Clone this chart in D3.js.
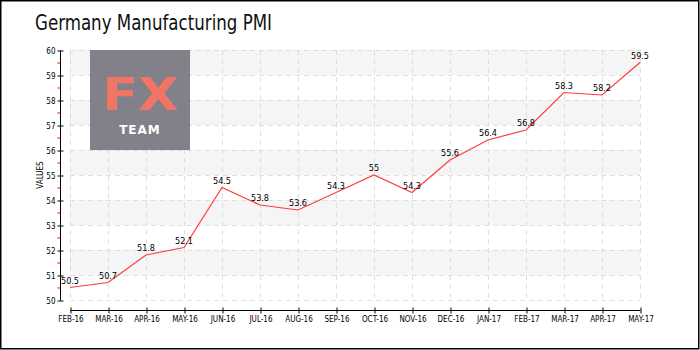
<!DOCTYPE html>
<html><head><meta charset="utf-8">
<script src="https://cdn.jsdelivr.net/npm/d3@7"></script>
<style>body{margin:0;background:#fff}svg{display:block}</style>
</head><body>
<svg id="c" width="700" height="350"></svg>
<script>
const months = ["FEB-16","MAR-16","APR-16","MAY-16","JUN-16","JUL-16","AUG-16","SEP-16","OCT-16","NOV-16","DEC-16","JAN-17","FEB-17","MAR-17","APR-17","MAY-17"];
const values = [50.5,50.7,51.8,52.1,54.5,53.8,53.6,54.3,55,54.3,55.6,56.4,56.8,58.3,58.2,59.5];
const labels = ["50.5","50.7","51.8","52.1","54.5","53.8","53.6","54.3","55","54.3","55.6","56.4","56.8","58.3","58.2","59.5"];
const yTicks = [50,51,52,53,54,55,56,57,58,59,60];
const minorTicks = [50.5,51.5,52.5,53.5,54.5,55.5,56.5,57.5,58.5,59.5];
const stripeStarts = [51,53,55,57,59];
const title = "Germany Manufacturing PMI";

const svg = d3.select("#c");
const font = "'DejaVu Sans Condensed','DejaVu Sans',sans-serif";
const x = d3.scalePoint().domain(months).range([70,640]);
const y = d3.scaleLinear().domain([50,60]).range([300,50]);

svg.append("rect").attr("x",0.75).attr("y",0.75).attr("width",698).attr("height",348)
  .attr("fill","#fff").attr("stroke","#000").attr("stroke-width",1.5);

svg.append("text").attr("x",35).attr("y",30).attr("font-family",font)
  .attr("font-size",21).attr("fill","#111")
  .attr("textLength",237).attr("lengthAdjust","spacingAndGlyphs").text(title);

// stripes
svg.append("g").selectAll("rect").data(stripeStarts).join("rect")
  .attr("x",70).attr("width",570)
  .attr("y",d=>y(d+1)).attr("height",d=>y(d)-y(d+1))
  .attr("fill","#f5f5f5");

// grid
const grid = svg.append("g").attr("stroke","#d8d8d8").attr("stroke-opacity",0.8).attr("stroke-dasharray","5,4").attr("stroke-width",1);
grid.selectAll("line.h").data(yTicks).join("line").attr("class","h")
  .attr("x1",70).attr("x2",640).attr("y1",d=>y(d)+0.5).attr("y2",d=>y(d)+0.5);
grid.selectAll("line.v").data(months).join("line").attr("class","v")
  .attr("x1",d=>x(d)+0.5).attr("x2",d=>x(d)+0.5).attr("y1",50).attr("y2",300);

// logo
const lg = svg.append("g");
lg.append("rect").attr("x",90).attr("y",50).attr("width",100).attr("height",100).attr("fill","#7b7a83").attr("fill-opacity",0.95);
lg.append("text").attr("x",140).attr("y",110).attr("text-anchor","middle")
  .attr("font-family","'DejaVu Sans',sans-serif").attr("font-size",44).attr("font-weight",600).attr("fill","#f07663")
  .attr("textLength",76).attr("lengthAdjust","spacingAndGlyphs").text("FX");
lg.append("text").attr("x",140).attr("y",134).attr("text-anchor","middle")
  .attr("font-family","'DejaVu Sans',sans-serif").attr("font-weight","bold").attr("font-size",12)
  .attr("letter-spacing",1).attr("fill","#fff").text("TEAM");

// y axis
const ya = svg.append("g").attr("transform","translate(60.5,0.5)");
ya.call(d3.axisLeft(y).tickValues(yTicks).tickSize(3).tickFormat(d3.format("d")));
ya.select(".domain").attr("d","M0,"+(y(60))+"V"+y(50)).attr("stroke","#000");
ya.selectAll(".tick line").attr("x1",-3).attr("x2",3).attr("stroke","#000");
ya.selectAll(".tick text").attr("font-family",font).attr("font-size",8).attr("fill","#000").attr("x",-5);
ya.selectAll("line.minor").data(minorTicks).join("line").attr("class","minor")
  .attr("x1",-3).attr("x2",0).attr("y1",d=>y(d)).attr("y2",d=>y(d)).attr("stroke","#e00");

svg.append("text").attr("transform","translate(43,175) rotate(-90)").attr("text-anchor","middle")
  .attr("font-family",font).attr("font-size",8).attr("fill","#000").text("VALUES");

// x axis
const xa = svg.append("g").attr("transform","translate(0.5,310.5)");
xa.call(d3.axisBottom(x).tickSize(3));
xa.select(".domain").attr("d","M"+x(months[0])+",0H"+x(months[months.length-1])).attr("stroke","#000");
xa.selectAll(".tick line").attr("y1",-3).attr("y2",3).attr("stroke","#000");
xa.selectAll(".tick text").attr("font-family",font).attr("font-size",8).attr("fill","#000").attr("y",6);

// line
svg.append("path").datum(values)
  .attr("d", d3.line().x((d,i)=>x(months[i])).y(d=>y(d)))
  .attr("fill","none").attr("stroke","#ff3b3b").attr("stroke-width",1.2);

svg.append("g").selectAll("text").data(values).join("text")
  .attr("x",(d,i)=>x(months[i])).attr("y",d=>y(d)-4).attr("text-anchor","middle")
  .attr("font-family",font).attr("font-size",9).attr("fill","#000")
  .text((d,i)=>labels[i]);
</script>
</body></html>
